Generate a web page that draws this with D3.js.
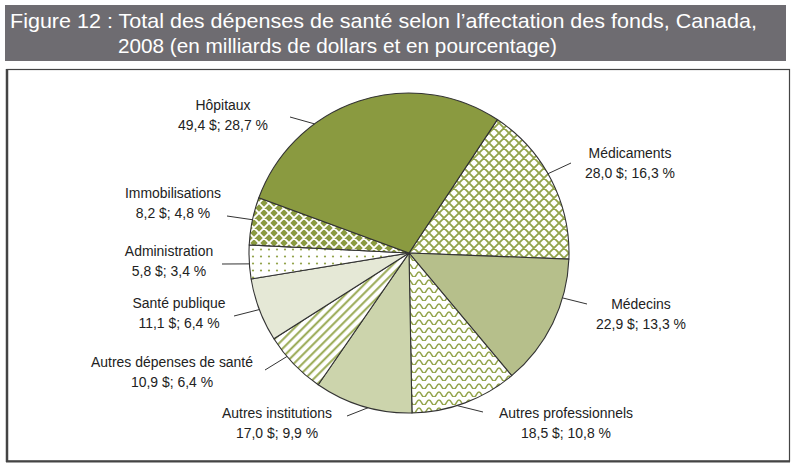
<!DOCTYPE html>
<html><head><meta charset="utf-8">
<script src="https://cdn.jsdelivr.net/npm/d3@7"></script>
<style>
html,body{margin:0;padding:0;background:#fff;}
svg{display:block;}
</style></head>
<body>
<svg id="chart" width="795" height="469"></svg>
<script>
// ---- data ----
const categories = ["Médicaments","Médecins","Autres professionnels","Autres institutions","Autres dépenses de santé","Santé publique","Administration","Immobilisations","Hôpitaux"];
const dollars = [28.0, 22.9, 18.5, 17.0, 10.9, 11.1, 5.8, 8.2, 49.4];
const percents = [16.3, 13.3, 10.8, 9.9, 6.4, 6.4, 3.4, 4.8, 28.7];
const titleLines = ["Figure 12 : Total des dépenses de santé selon l\u2019affectation des fonds, Canada,", "2008 (en milliards de dollars et en pourcentage)"];

// ---- styles / layout ----
const fills = ["url(#lattice)", "#b6bf8b", "url(#waves)", "#ccd4ac", "url(#stripes)", "#e5e8d6", "url(#dots)", "url(#lattice2)", "#8a9a40"];
// label layout: text centre x, first baseline y, leader anchor angle (deg), leader outer end
const labelLayout = [
  {x:630, y:158, a:60.3,  lx:571, ly:163},
  {x:641, y:309, a:106.3, lx:587, ly:304},
  {x:566, y:418, a:162.5, lx:483, ly:412},
  {x:277, y:418, a:194.8, lx:347, ly:416},
  {x:172, y:367, a:229.7, lx:265, ly:370},
  {x:179, y:308, a:249.3, lx:234, ly:316},
  {x:169, y:256, a:266.1, lx:222, ly:264},
  {x:173, y:198, a:282,   lx:227, ly:216},
  {x:223, y:110, a:323.8, lx:290, ly:117}
];
const cx = 409, cy = 253, R = 160;
const startDeg = 33.5;
const olive = "#8a9a40", patOlive = "#93a44a";
const labelFont = "'Liberation Sans',Arial,sans-serif";

const svg = d3.select("#chart");
const defs = svg.append("defs");

function lattice(id, bg, fg){
  const p = defs.append("pattern").attr("id", id).attr("patternUnits","userSpaceOnUse")
    .attr("width",10).attr("height",10);
  p.append("rect").attr("width",10).attr("height",10).attr("fill",bg);
  p.append("path").attr("d","M-1,-1L11,11M11,-1L-1,11M-1,9L1,11M9,-1L11,1M-1,1L1,-1M9,11L11,9")
    .attr("stroke",fg).attr("stroke-width",1.8).attr("fill","none");
}
lattice("lattice", "#fff", patOlive);
lattice("lattice2", olive, "#fff");

const pw = defs.append("pattern").attr("id","waves").attr("patternUnits","userSpaceOnUse")
  .attr("width",10).attr("height",8);
pw.append("rect").attr("width",10).attr("height",8).attr("fill","#fff");
pw.append("path").attr("d","M-2.5,5.5 Q0,0.5 2.5,5.5 Q5,10.5 7.5,5.5 Q10,0.5 12.5,5.5")
  .attr("stroke",patOlive).attr("stroke-width",1.6).attr("fill","none");

const ps = defs.append("pattern").attr("id","stripes").attr("patternUnits","userSpaceOnUse")
  .attr("width",6.2).attr("height",6.2).attr("patternTransform","rotate(45)");
ps.append("rect").attr("width",6.2).attr("height",6.2).attr("fill","#fff");
ps.append("line").attr("x1",3).attr("x2",3).attr("y1",-1).attr("y2",7.2)
  .attr("stroke",patOlive).attr("stroke-width",1.9);

const pd = defs.append("pattern").attr("id","dots").attr("patternUnits","userSpaceOnUse")
  .attr("width",8).attr("height",7);
pd.append("rect").attr("width",8).attr("height",7).attr("fill","#fff");
pd.append("circle").attr("cx",4).attr("cy",3.5).attr("r",1.1).attr("fill",patOlive);

// ---- title bar ----
svg.append("rect").attr("x",5).attr("y",5).attr("width",781).attr("height",56).attr("fill","#6e6c71");
const titleFont = "'Liberation Sans',Arial,sans-serif";
svg.append("text").attr("x",10).attr("y",28).attr("fill","#fff")
  .attr("font-family",titleFont).attr("font-size",21)
  .attr("textLength",747).attr("lengthAdjust","spacingAndGlyphs").text(titleLines[0]);
svg.append("text").attr("x",118).attr("y",53).attr("fill","#fff")
  .attr("font-family",titleFont).attr("font-size",21)
  .attr("textLength",439).attr("lengthAdjust","spacingAndGlyphs").text(titleLines[1]);

// ---- frame ----
svg.append("rect").attr("x",7).attr("y",69.5).attr("width",782.5).attr("height",391.5)
  .attr("fill","#fff").attr("stroke","#444").attr("stroke-width",1.2);
svg.append("line").attr("x1",7).attr("x2",7).attr("y1",69).attr("y2",462).attr("stroke","#444").attr("stroke-width",2.5);
svg.append("line").attr("x1",6).attr("x2",790).attr("y1",461.5).attr("y2",461.5).attr("stroke","#444").attr("stroke-width",2.2);

// ---- pie ----
const toRad = d => d * Math.PI / 180;
const pie = d3.pie().sort(null).value(d => d.p)
  .startAngle(toRad(startDeg)).endAngle(toRad(startDeg + 360));
const data = categories.map((c,i) => ({c, d: dollars[i], p: percents[i], i}));
const arcs = pie(data);
const arc = d3.arc().innerRadius(0).outerRadius(R);
const g = svg.append("g").attr("transform",`translate(${cx},${cy})`);
g.selectAll("path.slice").data(arcs).join("path").attr("class","slice")
  .attr("d", arc).attr("fill", d => fills[d.data.i])
  .attr("stroke","#333").attr("stroke-width",1.1).attr("stroke-linejoin","round");

// ---- labels ----
const fmt = v => d3.format(".1f")(v).replace(".", ",");
data.forEach((d,i) => {
  const L = labelLayout[i];
  const a = toRad(L.a);
  const px = cx + R * Math.sin(a), py = cy - R * Math.cos(a);
  svg.append("line").attr("x1",L.lx).attr("y1",L.ly).attr("x2",px).attr("y2",py)
    .attr("stroke","#333").attr("stroke-width",1);
  const tg = svg.append("g").attr("transform",`translate(${L.x},0) scale(0.9,1)`);
  const t = tg.append("text").attr("text-anchor","middle")
    .attr("font-family", labelFont).attr("font-size",15.5).attr("fill","#222");
  t.append("tspan").attr("x",0).attr("y",L.y).text(d.c);
  t.append("tspan").attr("x",0).attr("y",L.y + 20).text(`${fmt(d.d)} $; ${fmt(d.p)} %`);
});
</script>
</body></html>
